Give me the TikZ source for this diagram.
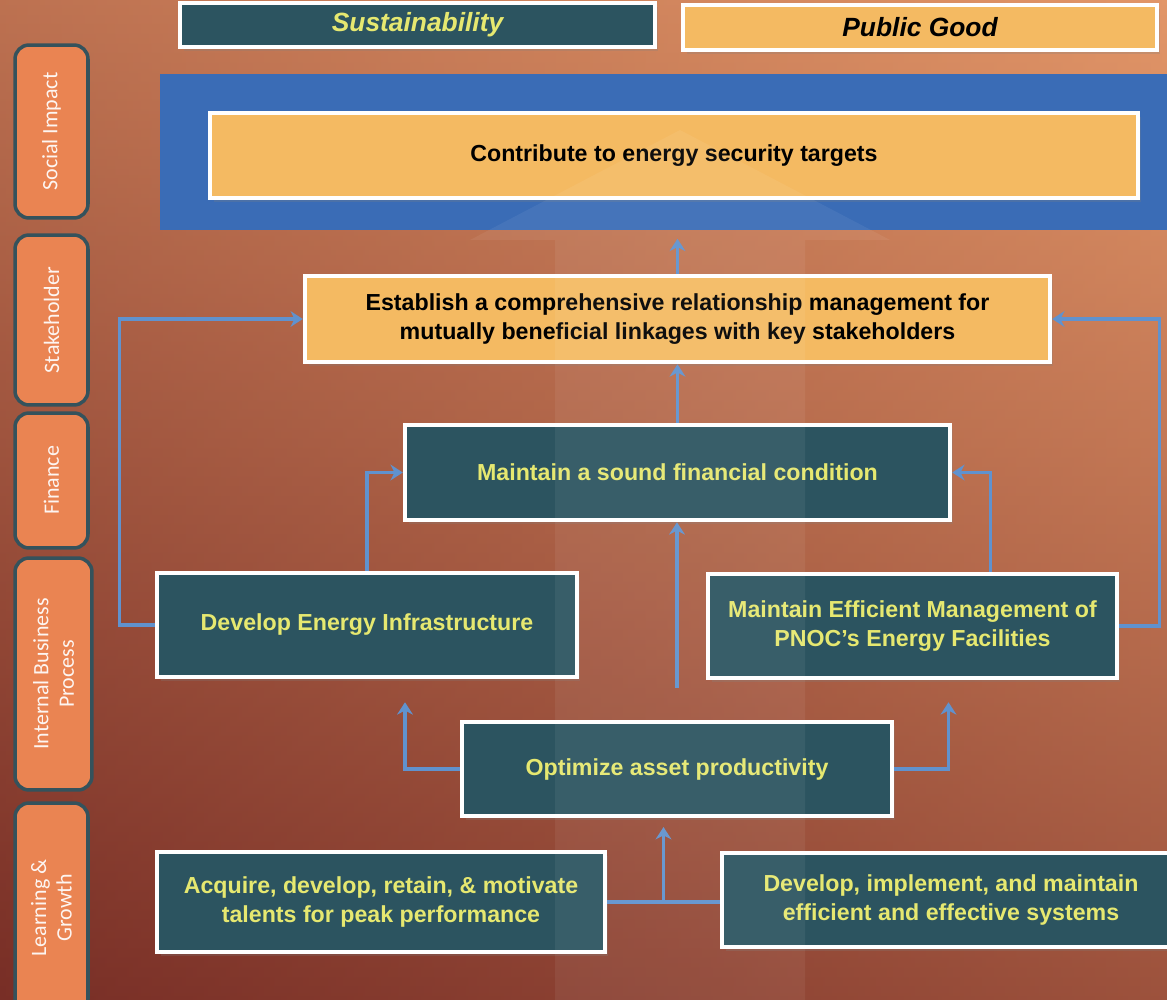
\documentclass[tikz,border=0pt]{standalone}
\usepackage{fontspec}
\setmainfont{Liberation Sans}
\newfontfamily\tabfont{Carlito}
\usetikzlibrary{positioning,arrows.meta,calc,shadows}
\definecolor{bscteal}{RGB}{44,84,96}
\definecolor{bscyellow}{RGB}{230,232,112}
\definecolor{bscgold}{RGB}{244,186,98}
\definecolor{bscblue}{RGB}{96,146,206}
\definecolor{bandmid}{RGB}{118,166,224}
\definecolor{bandedge}{RGB}{58,108,182}
\definecolor{bsctab}{RGB}{234,132,82}
\definecolor{bsctabline}{RGB}{52,82,92}
\definecolor{bgtop}{RGB}{226,150,104}
\definecolor{bgmid}{RGB}{208,110,68}
\definecolor{bgbot}{RGB}{120,46,38}

\begin{document}
\begin{tikzpicture}[x=0.02cm, y=-0.02cm,
    goal/.style={draw=white, line width=2.6pt, align=center, inner sep=2pt,
      font=\bfseries\fontsize{13.2}{16}\selectfont,
      drop shadow={opacity=0.25, shadow xshift=2pt, shadow yshift=-2pt}},
    dark/.style={goal, fill=bscteal, text=bscyellow},
    light/.style={goal, fill=bscgold, text=black},
    theme/.style={font=\bfseries\itshape\fontsize{15}{17}\selectfont},
    tab/.style={draw=bsctabline, line width=2pt, rounded corners=8pt, fill=bsctab,
      rotate=90, align=center, text=white!92!bsctab,
      font=\tabfont\fontsize{12.5}{14.5}\selectfont},
    link/.style={draw=bscblue, line width=1.8pt, -{Stealth[length=7pt,width=9pt]}}
  ]
  \useasboundingbox (0,0) rectangle (1167,1000);
  % background
  \shade[top color=bgtop, middle color=bgmid, bottom color=bgbot] (0,0) rectangle (1167,1000);
  \shade[left color=bgbot, right color=bgtop, opacity=0.35] (0,0) rectangle (1167,1000);

  % perspective tabs
  \node[tab, minimum width=3.46cm, minimum height=1.46cm] (soc) at (51.5,131.5) {Social Impact};
  \node[tab, minimum width=3.4cm, minimum height=1.46cm] (stk) at (51.5,320) {Stakeholder};
  \node[tab, minimum width=2.7cm, minimum height=1.46cm] (finl) at (51.5,480.5) {Finance};
  \node[tab, minimum width=4.64cm, minimum height=1.54cm] (ibp) at (53.5,674) {Internal Business\\Process};
  \node[tab, minimum width=4.2cm, minimum height=1.46cm] (lg) at (51.5,908) {Learning \&\\Growth};

  % top themes
  \node[dark, theme, minimum width=9.5cm, minimum height=0.88cm] (sust) at (417.5,25) {Sustainability};
  \node[light, theme, minimum width=9.48cm, minimum height=0.9cm] (pub) at (920,27.5) {Public Good};

  % objectives
  \shade[top color=bandedge, middle color=bandmid, bottom color=bandedge]
    (160,75) rectangle (1167,230);
  \coordinate (band) at (663.5,230);
  \node[light, minimum width=18.56cm, minimum height=1.7cm] (contrib) at (674,155.5)
    {Contribute to energy security targets};
  \node[light, minimum width=14.9cm, minimum height=1.72cm] (stake) at (677.5,319)
    {Establish a comprehensive relationship management for\\mutually beneficial linkages with key stakeholders};
  \node[dark, minimum width=10.9cm, minimum height=1.9cm] (fin) at (677.5,472.5)
    {Maintain a sound financial condition};
  \node[dark, minimum width=8.4cm, minimum height=2.08cm] (dei) at (367,625)
    {Develop Energy Infrastructure};
  \node[dark, minimum width=8.18cm, minimum height=2.08cm] (mem) at (912.5,626)
    {Maintain Efficient Management of\\PNOC's Energy Facilities};
  \node[dark, minimum width=8.6cm, minimum height=1.88cm] (opt) at (677,769)
    {Optimize asset productivity};
  \node[dark, minimum width=8.96cm, minimum height=2cm] (acq) at (381,902)
    {Acquire, develop, retain, \& motivate\\talents for peak performance};
  \node[dark, minimum width=9.16cm, minimum height=1.88cm] (sys) at (951,900)
    {Develop, implement, and maintain\\efficient and effective systems};

  % links
  \draw[link, shorten >=5pt] (stake.north) -- (stake.north |- band);
  \draw[link] (fin.north) -- (fin.north |- stake.south);
  \draw[link, shorten <=0.64cm] (opt.north) -- (opt.north |- fin.south);
  \draw[link] (dei.north) |- (fin.west);
  \draw[link] (dei.west) -- ++(-35,0) |- (stake.west);
  \draw[link] ($(mem.north)+(78,0)$) |- (fin.east);
  \draw[link] (mem.east) -- ++(40,0) |- (stake.east);
  \draw[link, shorten >=0.46cm] (opt.west) -| ($(dei.south)+(38,0)$);
  \draw[link, shorten >=0.44cm] (opt.east) -| ($(mem.south)+(36,0)$);
  \coordinate (lgjoin) at ($(acq.east)!0.5!(acq.east -| sys.west)$);
  \draw[draw=bscblue, line width=1.8pt] (acq.east) -- (acq.east -| sys.west);
  \draw[link, shorten >=5pt] (lgjoin) -- (lgjoin |- opt.south);

  % faint strategy arrow
  \fill[white, opacity=0.06] (555,1000) -- (555,240) -- (470,240) -- (680,130)
    -- (890,240) -- (805,240) -- (805,1000) -- cycle;
\end{tikzpicture}
\end{document}
